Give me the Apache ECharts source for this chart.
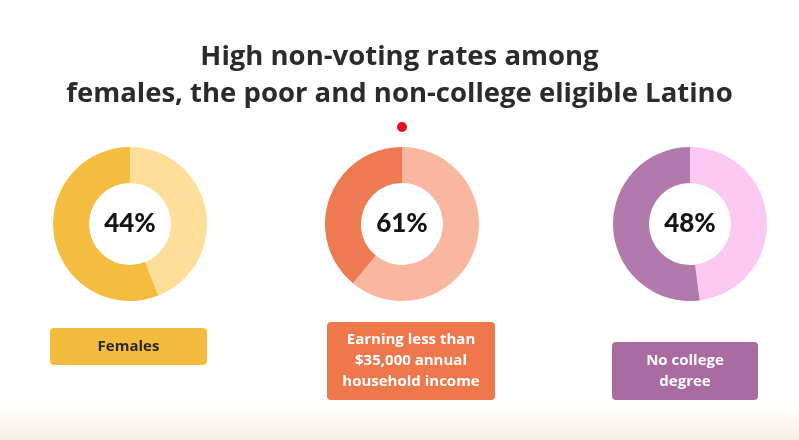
<!DOCTYPE html>
<html>
<head>
<meta charset="utf-8">
<script src="https://cdn.jsdelivr.net/npm/echarts@6/dist/echarts.min.js"></script>
<style>
  html, body { margin: 0; padding: 0; background: #ffffff; }
  #chart { width: 799px; height: 440px; }
</style>
</head>
<body>
<div id="chart"></div>
<script>
// Non-voting shares (percent) by group
const groups = ['Females', 'Earning less than\n$35,000 annual\nhousehold income', 'No college\ndegree'];
const nonVotingRates = [44, 61, 48];

// Palette per group: light share, dark remainder, label box, label text
const lightColors = ['#FDDF9A', '#F9B7A0', '#FAC8F0'];
const darkColors = ['#F4BD40', '#EE7A52', '#B27AAC'];
const boxColors = ['#F3BC3F', '#EE774B', '#AA6BA1'];
const boxTextColors = ['#2a2a2a', '#ffffff', '#ffffff'];

const centersX = [130, 402, 690];
const centerY = 224;
const boxes = [
  { x: 50, y: 328, w: 157, h: 37 },
  { x: 327, y: 322, w: 168, h: 78 },
  { x: 612, y: 342, w: 146, h: 58 }
];

const series = nonVotingRates.map((v, i) => ({
  type: 'pie',
  center: [centersX[i], centerY],
  radius: [41, 77],
  startAngle: 90,
  clockwise: true,
  silent: true,
  animation: false,
  labelLine: { show: false },
  emphasis: { disabled: true },
  data: [
    {
      value: v,
      itemStyle: { color: lightColors[i] },
      label: {
        show: true,
        position: 'center',
        formatter: '{c}%',
        fontFamily: 'Lato, "Noto Sans", sans-serif',
        fontWeight: 900,
        fontSize: 26,
        color: '#141414'
      }
    },
    { value: 100 - v, itemStyle: { color: darkColors[i] }, label: { show: false } }
  ]
}));

const graphics = [
  // soft warm band along the bottom edge
  {
    type: 'rect', z: -10,
    shape: { x: 0, y: 405, width: 799, height: 35 },
    style: {
      fill: new echarts.graphic.LinearGradient(0, 0, 0, 1, [
        { offset: 0, color: 'rgba(248,243,235,0)' },
        { offset: 1, color: 'rgba(245,239,229,1)' }
      ])
    }
  },
  // red marker dot
  {
    type: 'circle',
    shape: { cx: 402, cy: 127, r: 5 },
    style: { fill: '#E3101C' }
  }
];

boxes.forEach((b, i) => {
  graphics.push({
    type: 'rect',
    shape: { x: b.x, y: b.y, width: b.w, height: b.h, r: 4 },
    style: { fill: boxColors[i] }
  });
  graphics.push({
    type: 'text',
    x: b.x + b.w / 2,
    y: b.y + b.h / 2,
    style: {
      text: groups[i],
      fill: boxTextColors[i],
      font: '700 15px "Open Sans", "Noto Sans", sans-serif',
      lineHeight: 21,
      align: 'center',
      verticalAlign: 'middle'
    }
  });
});

const chart = echarts.init(document.getElementById('chart'), null, { renderer: 'canvas' });
chart.setOption({
  backgroundColor: '#ffffff',
  animation: false,
  title: {
    text: 'High non-voting rates among\nfemales, the poor and non-college eligible Latino',
    left: 'center',
    top: 34,
    textStyle: {
      fontFamily: '"Open Sans", "Noto Sans", sans-serif',
      fontWeight: 700,
      fontSize: 27.5,
      lineHeight: 37,
      color: '#2b2b2b'
    }
  },
  series: series,
  graphic: graphics
});
</script>
</body>
</html>
